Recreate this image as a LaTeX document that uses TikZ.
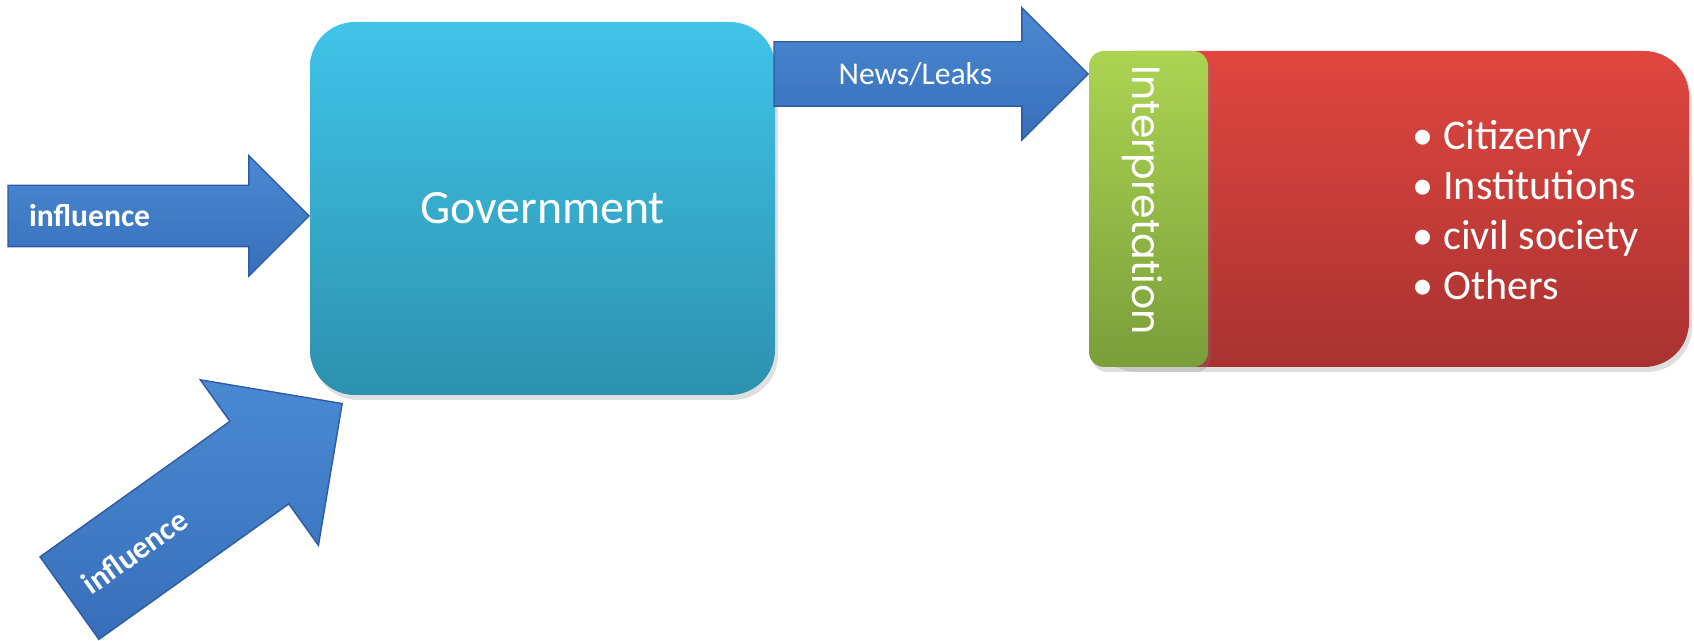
\documentclass[tikz,border=0pt]{standalone}
\usepackage{fontspec}
\setmainfont{Carlito}
\newfontfamily\rotfont{Poppins}
\usetikzlibrary{shapes.arrows,shadows,calc}
\definecolor{arrowtop}{RGB}{74,138,210}
\definecolor{arrowbottom}{RGB}{56,110,186}
\definecolor{arrowedge}{RGB}{46,92,160}
\definecolor{govtop}{RGB}{64,196,232}
\definecolor{govbottom}{RGB}{45,145,174}
\definecolor{redtop}{RGB}{224,70,64}
\definecolor{redbottom}{RGB}{168,50,48}
\definecolor{greentop}{RGB}{172,212,82}
\definecolor{greenbottom}{RGB}{122,158,58}
\begin{document}
\begin{tikzpicture}[
	blockarrow/.style={single arrow, draw=arrowedge, line width=0.4pt, top color=arrowtop, bottom color=arrowbottom, inner xsep=0pt, anchor=tip},
	arrowlabel/.style={text=white, inner sep=0pt, font=\fontsize{9}{11}\selectfont},
	panel/.style={draw=none, text=white, drop shadow={shadow xshift=0.03cm, shadow yshift=-0.05cm, opacity=0.25}},
]
	\useasboundingbox (0,0) rectangle (16.94,6.41);
	% the government box and what pushes on it
	\node[panel, top color=govtop, bottom color=govbottom, minimum width=4.65cm, minimum height=3.73cm, rounded corners=0.45cm, font=\fontsize{13.6}{16}\selectfont] (gov) at (5.425,4.325) {Government};
	\node[blockarrow, minimum height=3.01cm, inner ysep=0.30cm, single arrow head extend=0.295cm] (inflleft) at (3.10,4.25) {};
	\node[arrowlabel, anchor=west, font=\fontsize{9}{11}\selectfont\bfseries] (inflleftlabel) at ($(inflleft.tail)+(0.21,0)$) {influence};
	\node[blockarrow, rotate=35.5, minimum height=3.35cm, inner ysep=0.50cm, single arrow head extend=0.51cm] (infldiag) at (3.43,2.38) {};
	\node[arrowlabel, rotate=35.5, font=\fontsize{9}{11}\selectfont\bfseries] (infldiaglabel) at ($(infldiag.tail)!0.24!(infldiag.tip)$) {influence};
	% out to the public
	\node[blockarrow, minimum height=3.14cm, inner ysep=0.315cm, single arrow head extend=0.34cm] (news) at (10.89,5.67) {};
	\node[arrowlabel] (newslabel) at ($(news.tail)!0.45!(news.tip)$) {News/Leaks};
	\node[panel, top color=redtop, bottom color=redbottom, minimum width=6.00cm, minimum height=3.16cm, rounded corners=0.45cm] (public) at (13.89,4.32) {};
	\node[panel, top color=greentop, bottom color=greenbottom, minimum width=1.19cm, minimum height=3.16cm, rounded corners=0.15cm] (interp) at (11.485,4.32) {};
	\node[text=white, rotate=-90, font=\rotfont\fontsize{11.2}{14}\selectfont] (interplabel) at (11.42,4.41) {Interpretation};
	\node[text=white, anchor=west, align=left, inner sep=0pt, font=\fontsize{12}{14.2}\selectfont] (members) at (14.12,4.31) {\textbullet\ Citizenry\\ \textbullet\ Institutions\\ \textbullet\ civil society\\ \textbullet\ Others};
\end{tikzpicture}
\end{document}
